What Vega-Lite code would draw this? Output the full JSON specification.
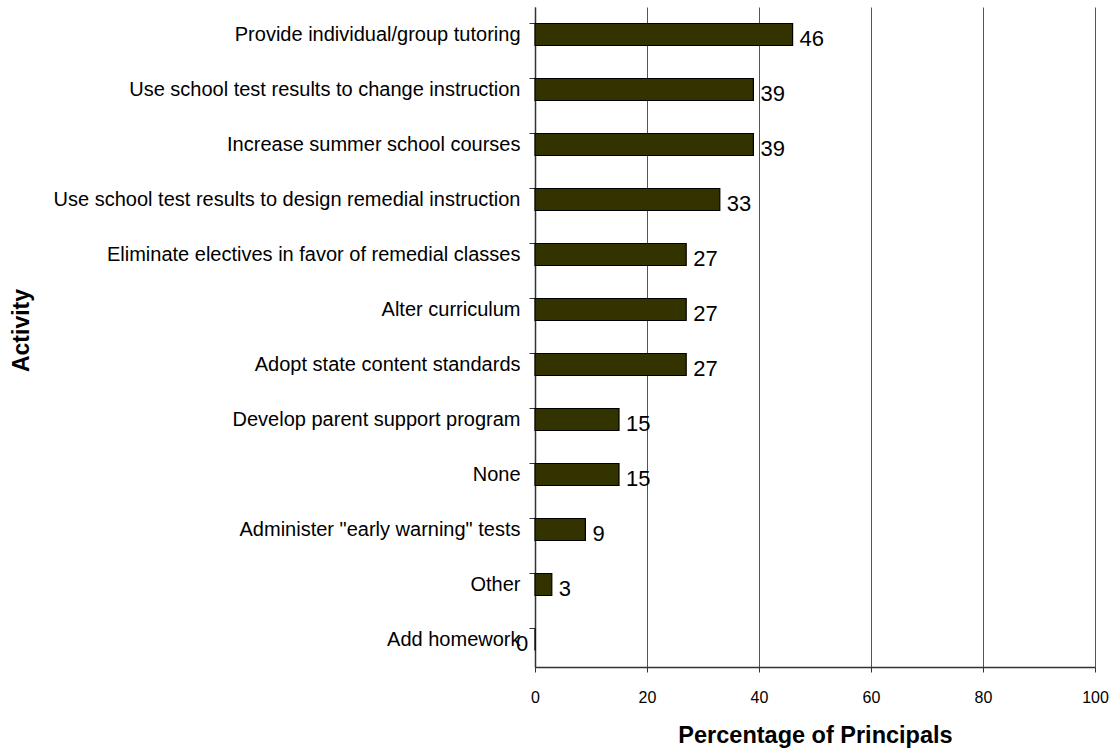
{
  "$schema": "https://vega.github.io/schema/vega-lite/v6.json",
  "width": 560,
  "height": 660,
  "autosize": "none",
  "padding": {"left": 535, "top": 7, "right": 22, "bottom": 84},
  "background": "white",
  "config": {
    "font": "Liberation Sans",
    "view": {"stroke": null}
  },
  "data": {
    "values": [
      {"activity": "Provide individual/group tutoring", "pct": 46},
      {"activity": "Use school test results to change instruction\u00a0", "pct": 39},
      {"activity": "Increase summer school courses", "pct": 39},
      {"activity": "Use school test results to design remedial instruction", "pct": 33},
      {"activity": "Eliminate electives in favor of remedial classes", "pct": 27},
      {"activity": "Alter curriculum", "pct": 27},
      {"activity": "Adopt state content standards", "pct": 27},
      {"activity": "Develop parent support program", "pct": 15},
      {"activity": "None", "pct": 15},
      {"activity": "Administer \"early warning\" tests", "pct": 9},
      {"activity": "Other", "pct": 3},
      {"activity": "Add homework", "pct": 0}
    ]
  },
  "encoding": {
    "y": {
      "field": "activity",
      "type": "nominal",
      "sort": null,
      "scale": {"paddingInner": 0.6, "paddingOuter": 0.3},
      "axis": {
        "title": "Activity",
        "titleFontSize": 23,
        "titleFontWeight": "bold",
        "titleColor": "black",
        "titlePadding": 0,
        "titleX": -502,
        "titleY": 323,
        "labelFontSize": 20,
        "labelColor": "black",
        "labelPadding": 9,
        "labelLimit": 0,
        "bandPosition": 0,
        "tickSize": 6,
        "tickColor": "#333",
        "domainColor": "#333",
        "domainWidth": 1.5,
        "grid": false
      }
    },
    "x": {
      "field": "pct",
      "type": "quantitative",
      "scale": {"domain": [0, 100]},
      "axis": {
        "title": "Percentage of Principals",
        "titleFontSize": 23.5,
        "titleFontWeight": "bold",
        "titleColor": "black",
        "titlePadding": 18,
        "values": [0, 20, 40, 60, 80, 100],
        "labelFontSize": 16,
        "labelColor": "black",
        "labelPadding": 17,
        "labelFlush": false,
        "tickSize": 5,
        "tickColor": "#333",
        "domainColor": "#333",
        "domainWidth": 1.5,
        "grid": true,
        "gridColor": "#555",
        "gridWidth": 1
      }
    }
  },
  "layer": [
    {
      "mark": {"type": "bar", "color": "#333300", "stroke": "black", "strokeWidth": 1.2}
    },
    {
      "transform": [{"filter": "datum.pct > 0"}],
      "mark": {"type": "text", "align": "left", "baseline": "middle", "dx": 7, "dy": 4, "fontSize": 22, "color": "black"},
      "encoding": {"text": {"field": "pct", "type": "quantitative"}}
    },
    {
      "transform": [{"filter": "datum.pct == 0"}],
      "mark": {"type": "text", "align": "center", "baseline": "middle", "dx": -13, "dy": 4, "fontSize": 22, "color": "black"},
      "encoding": {"text": {"field": "pct", "type": "quantitative"}}
    }
  ]
}
